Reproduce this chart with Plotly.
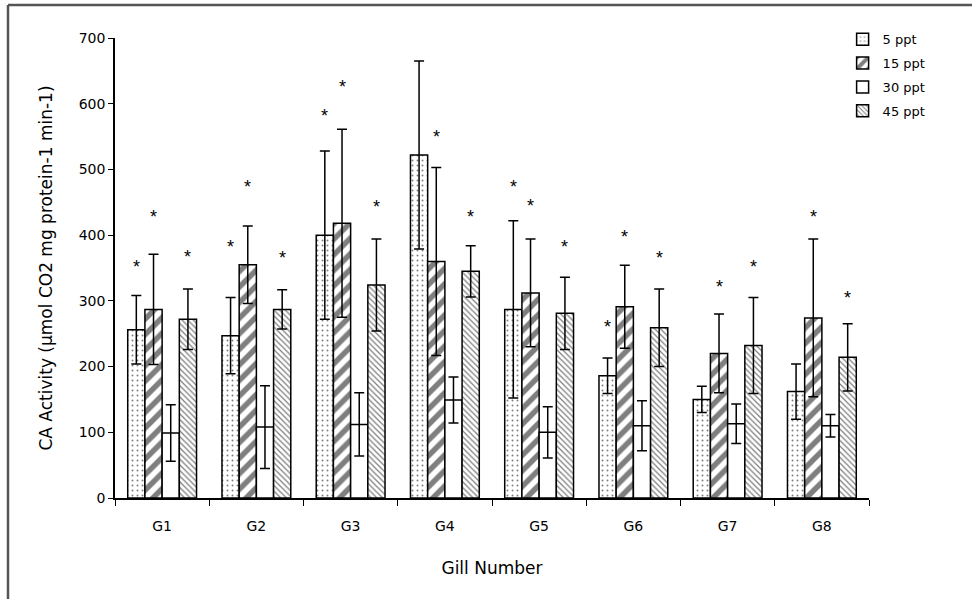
import plotly.graph_objects as go

gills = ["G1", "G2", "G3", "G4", "G5", "G6", "G7", "G8"]
series_names = ["5 ppt", "15 ppt", "30 ppt", "45 ppt"]

mean_5 = [256, 247, 400, 522, 287, 186, 150, 162]
err_5 = [52, 58, 128, 143, 135, 27, 20, 42]
star_5 = [358, 388, 587, 721, 480, 266, None, None]

mean_15 = [287, 355, 418, 360, 312, 291, 220, 274]
err_15 = [84, 59, 143, 143, 82, 63, 60, 120]
star_15 = [434, 480, 632, 556, 450, 404, 327, 433]

mean_30 = [99, 108, 112, 149, 100, 110, 113, 110]
err_30 = [43, 63, 48, 35, 39, 38, 30, 17]
star_30 = [None] * 8

mean_45 = [272, 287, 324, 345, 281, 259, 232, 214]
err_45 = [46, 30, 70, 39, 55, 59, 73, 51]
star_45 = [373, 372, 449, 434, 388, 372, 357, 310]

means = [mean_5, mean_15, mean_30, mean_45]
errs = [err_5, err_15, err_30, err_45]
stars = [star_5, star_15, star_30, star_45]

patterns = [
    dict(shape=".", size=5, solidity=0.12, fgcolor="black", bgcolor="white"),
    dict(shape="/", size=11, solidity=0.5, fgcolor="black", bgcolor="white"),
    dict(shape="", fgcolor="black", bgcolor="white"),
    dict(shape="\\", size=4, solidity=0.32, fgcolor="black", bgcolor="white"),
]

FONT = "DejaVu Sans, Verdana, sans-serif"
W, H = 972, 599
ML, MR, MT, MB = 115, 103, 38, 101
BARGAP = 0.27

fig = go.Figure()
for name, m, e, pat in zip(series_names, means, errs, patterns):
    fig.add_trace(go.Bar(
        x=gills, y=m, name=name, legendgroup=name,
        marker=dict(color="white", line=dict(color="black", width=1.5), pattern=pat),
        error_y=dict(type="data", array=e, visible=True, color="black",
                     thickness=1.5, width=5),
    ))

# significance stars above bars
plot_w = W - ML - MR
group_w = plot_w / len(gills)
bar_w = group_w * (1 - BARGAP) / len(series_names)
annotations = []
for si, st in enumerate(stars):
    off = (si - (len(series_names) - 1) / 2) * bar_w
    for gi, v in enumerate(st):
        if v is None:
            continue
        annotations.append(dict(x=gills[gi], y=v, xref="x", yref="y", text="*",
                                showarrow=False, xshift=off, yshift=-4,
                                font=dict(family="Liberation Sans, Arial", size=18, color="black")))

# outer frame (top and left edges visible in the reference)
fx0 = (8 - ML) / plot_w
fy1 = (H - MB - 5) / (H - MT - MB)
fig.update_layout(shapes=[
    dict(type="line", xref="paper", yref="paper", x0=fx0, x1=(W + 5 - ML) / plot_w,
         y0=fy1, y1=fy1, line=dict(color="#555", width=2.5)),
    dict(type="line", xref="paper", yref="paper", x0=fx0, x1=fx0,
         y0=fy1, y1=(-MB - 10) / (H - MT - MB), line=dict(color="#555", width=2.5)),
])

fig.update_layout(
    width=W, height=H,
    margin=dict(l=ML, r=MR, t=MT, b=MB),
    paper_bgcolor="white", plot_bgcolor="white",
    barmode="group", bargap=BARGAP, bargroupgap=0,
    font=dict(family=FONT, size=14, color="black"),
    annotations=annotations,
    showlegend=True,
    legend=dict(x=0.965, y=1.03, xanchor="left", yanchor="top",
                bgcolor="rgba(0,0,0,0)", font=dict(family=FONT, size=13),
                tracegroupgap=4, itemwidth=30),
    xaxis=dict(title=dict(text="Gill Number", font=dict(family=FONT, size=17), standoff=30),
               showline=True, linecolor="black", linewidth=1.5,
               ticks="outside", tickson="boundaries", ticklen=6, tickcolor="black",
               ticklabelstandoff=14,
               showgrid=False, tickfont=dict(family=FONT, size=14)),
    yaxis=dict(title=dict(text="CA Activity (µmol CO2 mg protein-1 min-1)",
                          font=dict(family=FONT, size=17), standoff=22),
               range=[0, 700], dtick=100, showline=True, linecolor="black",
               linewidth=1.5, ticks="outside", ticklen=5, tickcolor="black",
               showgrid=False, zeroline=False, tickfont=dict(family=FONT, size=14)),
)

fig.write_html("out.html")
